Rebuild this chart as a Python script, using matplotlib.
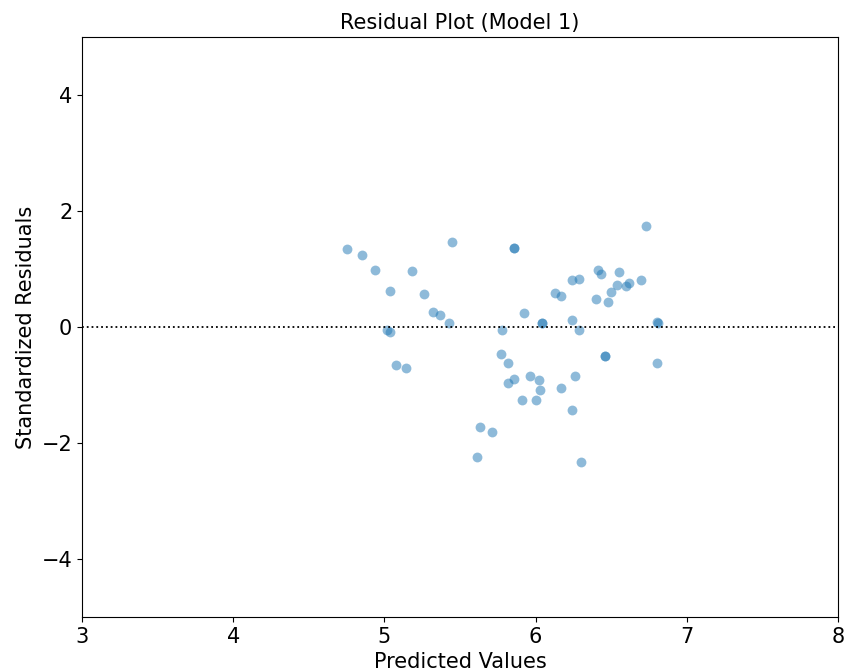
import matplotlib.pyplot as plt

# predicted values and standardized residuals
predicted = [4.75, 4.85, 4.94, 5.04, 5.02, 5.04, 5.08, 5.14, 5.18, 5.26,
             5.32, 5.37, 5.43, 5.45, 5.86, 5.86, 5.92, 5.78, 5.77, 5.82,
             5.82, 5.86, 5.96, 6.02, 6.03, 5.91, 6.00, 5.63, 5.71, 5.61,
             6.04, 6.04, 6.13, 6.17, 6.24, 6.29, 6.24, 6.29, 6.26, 6.17,
             6.24, 6.30, 6.40, 6.41, 6.43, 6.46, 6.46, 6.48, 6.50, 6.54,
             6.55, 6.60, 6.62, 6.70, 6.73, 6.80, 6.81, 6.80]
residuals = [1.34, 1.24, 0.98, 0.62, -0.06, -0.08, -0.65, -0.71, 0.97, 0.56,
             0.25, 0.20, 0.06, 1.46, 1.37, 1.37, 0.24, -0.06, -0.46, -0.62,
             -0.96, -0.90, -0.84, -0.91, -1.08, -1.26, -1.26, -1.73, -1.81, -2.24,
             0.07, 0.07, 0.58, 0.54, 0.12, -0.05, 0.81, 0.82, -0.84, -1.05,
             -1.43, -2.33, 0.48, 0.99, 0.91, -0.50, -0.50, 0.43, 0.60, 0.72,
             0.95, 0.71, 0.75, 0.81, 1.74, 0.08, 0.07, -0.62]

plt.rcParams['font.family'] = 'DejaVu Sans'
fig = plt.figure(figsize=(8.47, 6.71), dpi=100)
ax = fig.add_axes([0.0968, 0.0805, 0.8926, 0.8644])

ax.scatter(predicted, residuals, s=50, color='#1f77b4', alpha=0.5, linewidths=0)
ax.axhline(0, color='black', linestyle=':', linewidth=1.3)

ax.set_xlim(3, 8)
ax.set_ylim(-5, 5)
ax.set_xticks([3, 4, 5, 6, 7, 8])
ax.set_yticks([-4, -2, 0, 2, 4])
ax.tick_params(labelsize=15)

ax.set_xlabel('Predicted Values', fontsize=15, labelpad=4)
ax.set_ylabel('Standardized Residuals', fontsize=15)
ax.set_title('Residual Plot (Model 1)', fontsize=15, pad=6)

plt.savefig('out.png', dpi=100)
plt.close()
